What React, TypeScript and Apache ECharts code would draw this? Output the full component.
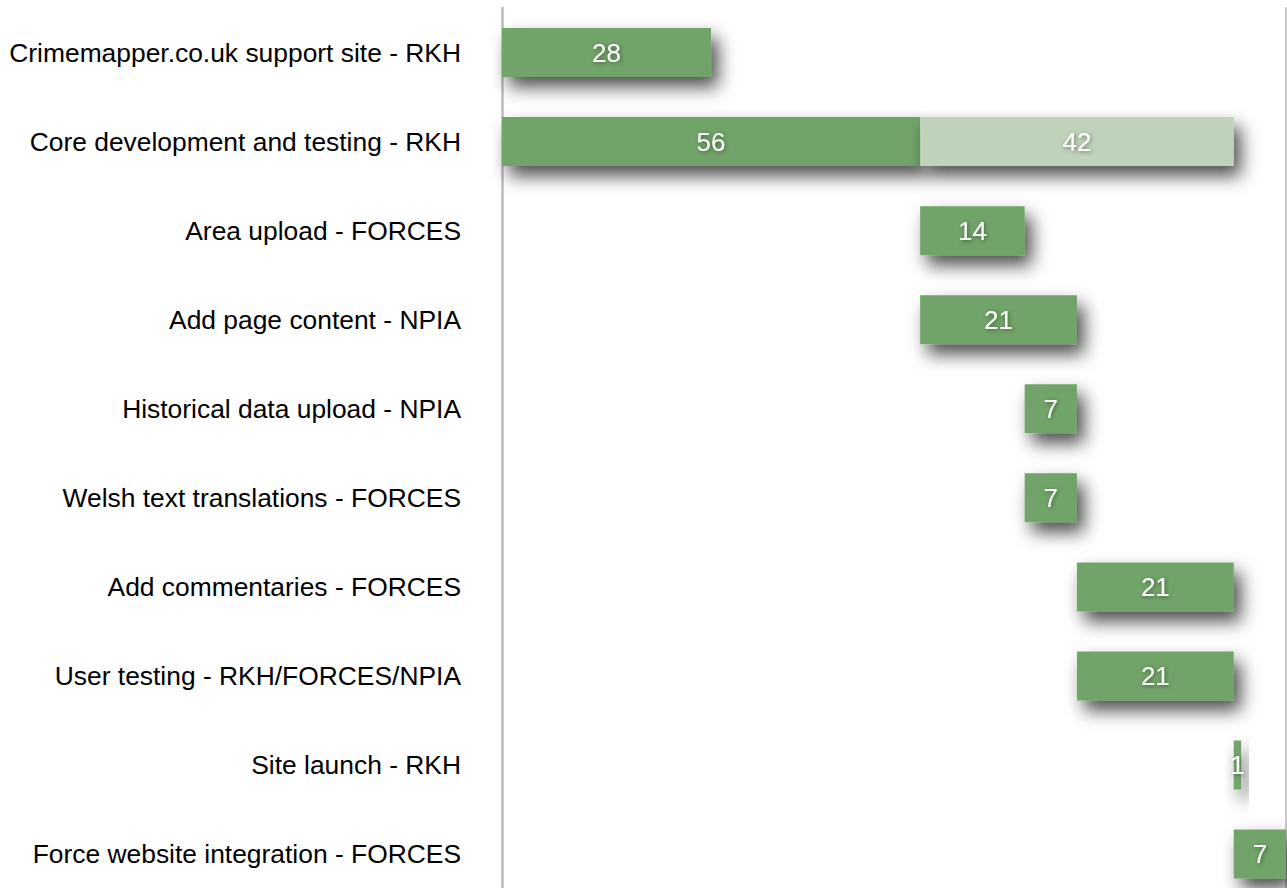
import React, { useEffect, useRef } from "react";
import * as echarts from "echarts";

const tasks = [
  "Crimemapper.co.uk support site - RKH",
  "Core development and testing - RKH",
  "Area upload - FORCES",
  "Add page content - NPIA",
  "Historical data upload - NPIA",
  "Welsh text translations - FORCES",
  "Add commentaries - FORCES",
  "User testing - RKH/FORCES/NPIA",
  "Site launch - RKH",
  "Force website integration - FORCES",
];
const startDays = [0, 0, 56, 56, 70, 70, 77, 77, 98, 98];
const durations = [28, 56, 14, 21, 7, 7, 21, 21, 1, 7];
const extraDurations = [null, 42, null, null, null, null, null, null, null, null];
const axisMax = 105;

const GREEN = "#71a469";
const LIGHT = "#bed3b9";

export default function App() {
  const ref = useRef<HTMLDivElement>(null);
  useEffect(() => {
    document.body.style.margin = "0";
    document.body.style.overflow = "hidden";
    const chart = echarts.init(ref.current!, undefined, { renderer: "svg" });
    const shadow = {
      shadowColor: "rgba(0,0,0,0.7)",
      shadowBlur: 18,
      shadowOffsetX: 7,
      shadowOffsetY: 10,
    };
    const label = {
      show: true,
      position: "inside" as const,
      color: "#ffffff",
      fontSize: 26,
      fontFamily: "Liberation Sans, Arial, sans-serif",
      textShadowColor: "rgba(0,0,0,0.45)",
      textShadowBlur: 4,
      textShadowOffsetX: 1,
      textShadowOffsetY: 1,
    };
    chart.setOption({
      animation: false,
      grid: { left: 502, right: 1, top: 8, bottom: 1.4, containLabel: false },
      xAxis: {
        type: "value",
        min: 0,
        max: axisMax,
        show: false,
      },
      yAxis: [
        {
          type: "category",
          data: tasks,
          inverse: true,
          position: "left",
          axisLine: { show: true, lineStyle: { color: "#bdbdbd", width: 2.5 } },
          axisTick: { show: false },
          axisLabel: {
            color: "#000",
            fontSize: 26.4,
            fontFamily: "Liberation Sans, Arial, sans-serif",
            margin: 41,
          },
          splitLine: { show: false },
        },
        {
          type: "category",
          data: tasks,
          inverse: true,
          position: "right",
          axisLine: { show: true, lineStyle: { color: "#c8c8c8", width: 2 } },
          axisTick: { show: false },
          axisLabel: { show: false },
          splitLine: { show: false },
        },
      ],
      series: [
        {
          type: "bar",
          stack: "gantt",
          data: startDays,
          barWidth: 49,
          itemStyle: { color: "transparent" },
          silent: true,
        },
        {
          type: "bar",
          stack: "gantt",
          data: durations,
          barWidth: 49,
          itemStyle: { color: GREEN, ...shadow },
          label,
        },
        {
          type: "bar",
          stack: "gantt",
          data: extraDurations,
          barWidth: 49,
          itemStyle: { color: LIGHT, ...shadow },
          label,
        },
      ],
    });
    return () => chart.dispose();
  }, []);
  return <div ref={ref} style={{ width: 1287, height: 900 }} />;
}
